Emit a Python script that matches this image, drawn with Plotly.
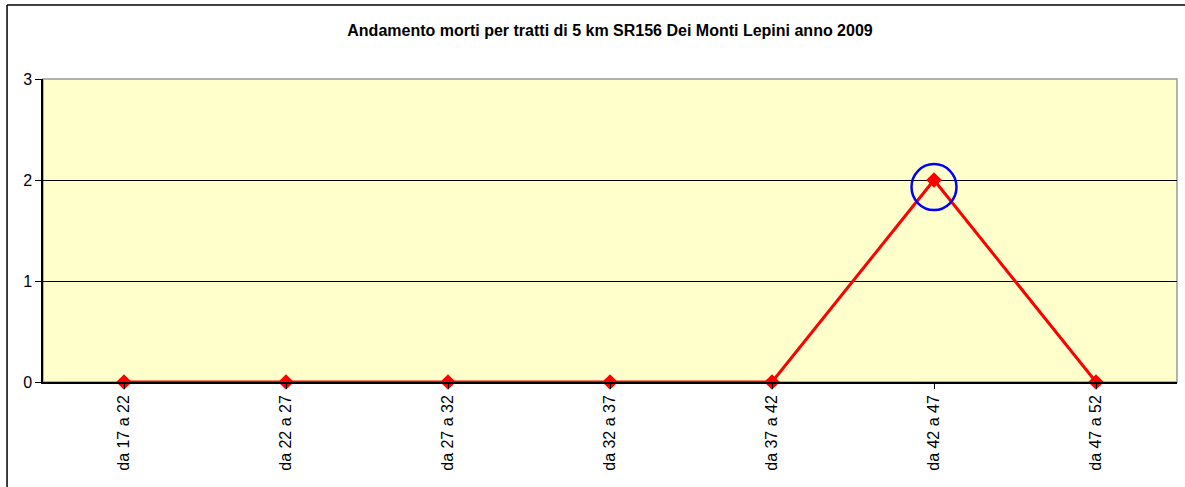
import plotly.graph_objects as go

categories = ["da 17 a 22", "da 22 a 27", "da 27 a 32", "da 32 a 37", "da 37 a 42", "da 42 a 47", "da 47 a 52"]
deaths = [0, 0, 0, 0, 0, 2, 0]
y_ticks = [0, 1, 2, 3]
title = "Andamento morti per tratti di 5 km SR156 Dei Monti Lepini anno 2009"
highlight_index = 5
highlight_value = 1.93

fig = go.Figure()
fig.add_trace(go.Scatter(
    x=list(range(len(categories))), y=deaths, mode="lines+markers",
    line=dict(color="#FF0000", width=3),
    marker=dict(symbol="diamond", size=12, color="#FF0000"),
    cliponaxis=False,
    hoverinfo="skip", showlegend=False,
))

fig.add_shape(type="rect", xref="paper", yref="paper", x0=0, x1=1, y0=0, y1=1,
              line=dict(color="#999999", width=1.5), fillcolor="#FFFFCC", layer="below")
# outer chart border (left and top)
fig.add_shape(type="line", xref="paper", yref="paper", x0=-0.0317, x1=-0.0317, y0=-0.5, y1=1.244,
              line=dict(color="black", width=1.5))
fig.add_shape(type="line", xref="paper", yref="paper", x0=-0.0317, x1=1.2, y0=1.244, y1=1.244,
              line=dict(color="black", width=1.5))
# highlight circle
fig.add_shape(type="circle", xref="x", yref="y", xsizemode="pixel", ysizemode="pixel",
              xanchor=highlight_index, yanchor=highlight_value,
              x0=-22.5, x1=22.5, y0=-23, y1=23,
              line=dict(color="#0000FF", width=2.5))

fig.update_layout(
    width=1185, height=487,
    margin=dict(l=43, r=8, t=79, b=105),
    paper_bgcolor="white", plot_bgcolor="#FFFFCC",
    title=dict(text=title, x=0.5, xref="paper", xanchor="center", y=0.938, yanchor="middle",
               font=dict(family="Liberation Sans, Arial", size=16, color="black", weight="bold")),
    font=dict(family="Liberation Sans, Arial", color="black"),
)
fig.update_xaxes(
    range=[-0.5, len(categories) - 0.5],
    tickmode="array", tickvals=list(range(len(categories))), ticktext=categories,
    tickangle=-90, tickfont=dict(size=16),
    ticks="outside", ticklen=5, tickcolor="black", tickson="boundaries",
    showline=True, linecolor="black", linewidth=1.5, showgrid=False, zeroline=False,
)
fig.update_yaxes(
    range=[0, 3], tickvals=y_ticks, tickfont=dict(size=16),
    ticks="outside", ticklen=6, tickcolor="black",
    showline=True, linecolor="black", linewidth=1.5,
    showgrid=True, gridcolor="black", gridwidth=1, zeroline=False,
)

fig.write_html("out.html", config={"displayModeBar": False},
               post_script="document.body.style.margin='0';")
